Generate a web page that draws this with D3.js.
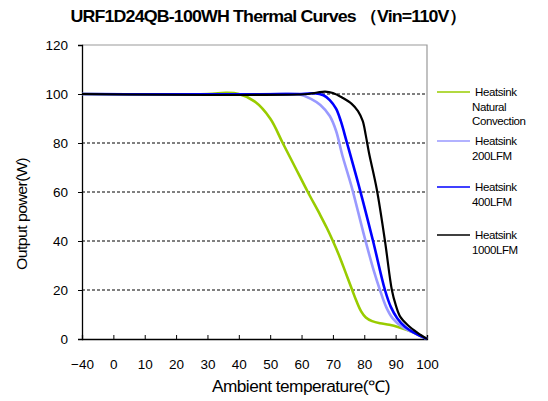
<!DOCTYPE html>
<html><head><meta charset="utf-8">
<script src="https://cdn.jsdelivr.net/npm/d3@7/dist/d3.min.js"></script>
<style>
body{margin:0;background:#fff;}
text{font-family:"Liberation Sans",Arial,sans-serif;fill:#000;}
</style></head>
<body>
<svg id="c" width="548" height="401"></svg>
<script>
const xTicks = [-40, 0, 10, 20, 30, 40, 50, 60, 70, 80, 90, 100];
const yTicks = [0, 20, 40, 60, 80, 100, 120];
const seriesNames = ["Natural Convection", "200LFM", "400LFM", "1000LFM"];
const legendLabels = [["Heatsink","Natural","Convection"],["Heatsink","200LFM"],["Heatsink","400LFM"],["Heatsink","1000LFM"]];
const colors = ["#99cc00", "#9999ff", "#0000ff", "#000000"];

const naturalT = [-40, 30, 36, 40, 45, 50, 54, 58, 62, 66, 68, 70, 72, 74, 76, 77.5, 79, 80.5, 82.5, 85, 88, 91, 95, 100];
const naturalV = [100, 100, 100.5, 100, 97, 90, 80, 70, 60, 50.5, 45.5, 40, 34, 27.3, 20.5, 15.5, 11.3, 8.8, 7.3, 6.4, 5.8, 4.8, 3, 0];
const lfm200T = [-40, 50, 55, 59, 63, 66, 69, 71, 73, 76, 80, 83, 85, 87, 89, 92, 95, 100];
const lfm200V = [100, 100, 100.3, 100, 98, 95.5, 91, 85, 75, 62, 42, 28, 20, 13, 8.5, 5, 3, 0];
const lfm400T = [-40, 60, 64, 67, 69, 71, 72.5, 74.5, 78.6, 82.8, 86.6, 88.5, 90.5, 93, 96, 100];
const lfm400V = [100, 100, 100.3, 99.5, 97.5, 94, 89, 80, 61, 40, 20, 13, 8.5, 5, 2.5, 0];
const lfm1000T = [-40, 62, 65, 67.5, 70, 73, 76, 78, 79.5, 80.5, 81.5, 84, 86.6, 88.8, 90, 91.5, 94, 97, 100];
const lfm1000V = [100, 100, 100.6, 101, 100.4, 98.5, 96, 93, 89, 83, 76, 61, 40, 20, 14, 9, 5.5, 2.5, 0];

const series = [[naturalT, naturalV], [lfm200T, lfm200V], [lfm400T, lfm400V], [lfm1000T, lfm1000V]];

const svg = d3.select("#c");
const L = 82, R = 427, T = 45, B = 339;
const x = d3.scaleLinear().domain([-40, 0, 100]).range([L, L + (R - L) / 11, R]);
const y = d3.scaleLinear().domain([0, 120]).range([B, T]);

// title
svg.append("text").attr("x", 268).attr("y", 22).attr("text-anchor", "middle")
  .attr("font-size", 17).attr("font-weight", "bold").attr("letter-spacing", -0.8)
  .attr("textLength", 395).attr("lengthAdjust", "spacingAndGlyphs")
  .text("URF1D24QB-100WH Thermal Curves （Vin=110V）");

// grid lines
svg.append("g").selectAll("line").data(yTicks.filter(d => d > 0 && d < 120)).join("line")
  .attr("x1", L).attr("x2", R).attr("y1", d => y(d)).attr("y2", d => y(d))
  .attr("stroke", "#000").attr("stroke-width", 1).attr("stroke-dasharray", "3,2");
// top/right border
svg.append("path").attr("d", `M${L},${T}H${R}V${B}`).attr("fill", "none").attr("stroke", "#999").attr("stroke-width", 1.2);

// axes
const yAxis = d3.axisLeft(y).tickValues(yTicks).tickSize(4).tickPadding(10);
const gy = svg.append("g").attr("transform", `translate(${L},0)`).call(yAxis);
gy.select(".domain").attr("stroke", "#000").attr("stroke-width", 1.3);
gy.selectAll("text").attr("font-size", 13.5).attr("font-family", "Liberation Sans, Arial, sans-serif");

const xAxis = d3.axisBottom(x).tickValues(xTicks).tickSize(-4).tickPadding(20);
const gx = svg.append("g").attr("transform", `translate(0,${B})`).call(xAxis);
gx.select(".domain").attr("stroke", "#000").attr("stroke-width", 1.3);
gx.selectAll("text").attr("font-size", 13.5).attr("font-family", "Liberation Sans, Arial, sans-serif");

// axis titles
svg.append("text").attr("transform", "translate(27,214) rotate(-90)").attr("text-anchor", "middle")
  .attr("font-size", 15.5).attr("letter-spacing", -0.6).attr("textLength", 112).attr("lengthAdjust", "spacingAndGlyphs")
  .text("Output power(W)");
svg.append("text").attr("x", 301).attr("y", 392).attr("text-anchor", "middle")
  .attr("font-size", 16).attr("letter-spacing", -0.5).attr("textLength", 178).attr("lengthAdjust", "spacingAndGlyphs")
  .text("Ambient temperature(℃)");

// curves
const line = d3.line().x(d => x(d[0])).y(d => y(d[1])).curve(d3.curveCatmullRom.alpha(0.5));
const widths = [2.6, 2.6, 2.6, 2.2];
svg.append("g").selectAll("path").data(series).join("path")
  .attr("d", s => line(s[0].map((t, i) => [t, s[1][i]])))
  .attr("fill", "none").attr("stroke", (d, i) => colors[i]).attr("stroke-width", (d, i) => widths[i])
  .attr("stroke-linejoin", "round");

// legend
const legY = [92, 141, 187, 235];
const lg = svg.append("g");
seriesNames.forEach((n, i) => {
  lg.append("line").attr("x1", 437).attr("x2", 470).attr("y1", legY[i]).attr("y2", legY[i])
    .attr("stroke", colors[i]).attr("stroke-width", 1.3);
  legendLabels[i].forEach((s, j) => {
    lg.append("text").attr("x", j === 0 ? 475 : 472).attr("y", legY[i] + 4 + j * 14.5)
      .attr("font-size", 11.5).attr("letter-spacing", -0.4).text(s);
  });
});
</script>
</body></html>
